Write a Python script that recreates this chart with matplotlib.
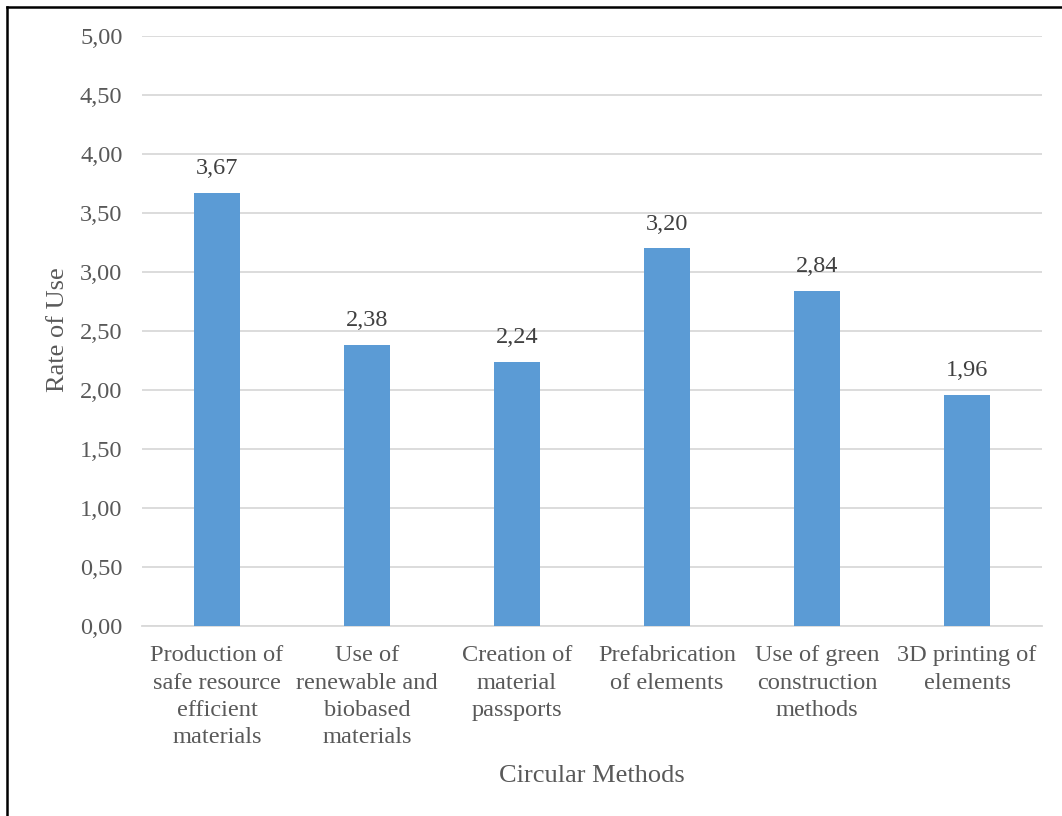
import matplotlib.pyplot as plt
from matplotlib.lines import Line2D
from matplotlib.ticker import FuncFormatter

# Data
methods = [
    "Production of\nsafe resource\nefficient\nmaterials",
    "Use of\nrenewable and\nbiobased\nmaterials",
    "Creation of\nmaterial\npassports",
    "Prefabrication\nof elements",
    "Use of green\nconstruction\nmethods",
    "3D printing of\nelements",
]
rates = [3.67, 2.38, 2.24, 3.20, 2.84, 1.96]
yticks = [0, 0.5, 1.0, 1.5, 2.0, 2.5, 3.0, 3.5, 4.0, 4.5, 5.0]

plt.rcParams['font.family'] = ['Liberation Serif', 'DejaVu Serif']
text_color = '#595959'


def comma(v, pos=None):
    return f"{v:.2f}".replace('.', ',')


fig = plt.figure(figsize=(10.62, 8.16), dpi=100)
ax = fig.add_axes([0.1337, 0.2328, 0.8475, 0.7231])

x = range(len(methods))
bars = ax.bar(x, rates, width=0.31, color='#5B9BD5', zorder=3)

for b, v in zip(bars, rates):
    ax.annotate(comma(v), (b.get_x() + b.get_width() / 2, v),
                xytext=(0, 10), textcoords='offset points',
                ha='center', va='bottom', fontsize=17.5, color='#404040')

ax.set_xlim(-0.5, len(methods) - 0.5)
ax.set_ylim(0, 5)
ax.set_yticks(yticks)
ax.yaxis.set_major_formatter(FuncFormatter(comma))
ax.set_xticks(list(x))
ax.set_xticklabels(methods, fontsize=17.6, color=text_color, linespacing=1.38)
ax.tick_params(axis='y', length=0, pad=14, labelsize=17.6, labelcolor=text_color)
ax.tick_params(axis='x', length=0, pad=14)

ax.grid(axis='y', color='#D9D9D9', linewidth=1.3, zorder=0)
for s in ['top', 'right', 'left']:
    ax.spines[s].set_visible(False)
ax.spines['bottom'].set_color('#D9D9D9')
ax.spines['bottom'].set_linewidth(1.3)

ax.set_ylabel("Rate of Use", fontsize=19, color=text_color, va='center')
ax.yaxis.set_label_coords(-0.0933, 0.5017)
ax.set_xlabel("Circular Methods", fontsize=19, color=text_color, va='center')
ax.xaxis.set_label_coords(0.5, -0.254)

# frame lines along top and left edges
fig.add_artist(Line2D([7 / 1062, 1], [1 - 7 / 816, 1 - 7 / 816],
                      transform=fig.transFigure, color='black', linewidth=1.8))
fig.add_artist(Line2D([7 / 1062, 7 / 1062], [0, 1 - 7 / 816],
                      transform=fig.transFigure, color='black', linewidth=1.8))

fig.savefig("out.png", dpi=100)
